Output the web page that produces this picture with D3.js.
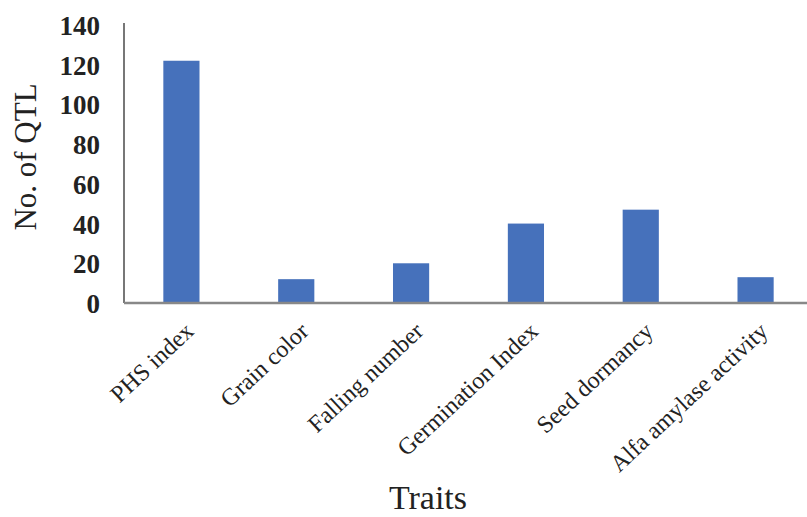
<!DOCTYPE html>
<html>
<head>
<meta charset="utf-8">
<script src="https://cdn.jsdelivr.net/npm/d3@7"></script>
<style>
  body { margin: 0; background: #fff; }
  text { font-family: "Liberation Serif", "DejaVu Serif", serif; fill: #222; }
</style>
</head>
<body>
<svg id="drawing_region"></svg>
<script>
// data
const traits = ["PHS index", "Grain color", "Falling number", "Germination Index", "Seed dormancy", "Alfa amylase activity"];
const qtlCounts = [122, 12, 20, 40, 47, 13];
const yTicks = [0, 20, 40, 60, 80, 100, 120, 140];

const width = 807, height = 517;
const margin = {top: 25, right: -6, bottom: 214, left: 124};

const svg = d3.select('#drawing_region')
    .attr('width', width)
    .attr('height', height);

const inner_width = width - margin.left - margin.right;
const inner_height = height - margin.top - margin.bottom;

const chart = svg.append('g')
    .attr('transform', `translate(${margin.left}, ${margin.top})`);

const xscale = d3.scaleBand()
    .domain(traits)
    .range([0, inner_width])
    .paddingInner(0.685)
    .paddingOuter(0.3425);

const yscale = d3.scaleLinear()
    .domain([0, 140])
    .range([inner_height, 0]);

// bars
chart.selectAll('rect')
    .data(traits)
    .enter()
    .append('rect')
    .attr('x', d => xscale(d))
    .attr('y', (d, i) => yscale(qtlCounts[i]))
    .attr('width', xscale.bandwidth())
    .attr('height', (d, i) => inner_height - yscale(qtlCounts[i]))
    .attr('fill', '#4671bb');

// y axis: line + labels, no tick marks
const yaxis = d3.axisLeft(yscale).tickValues(yTicks).tickSize(0).tickPadding(24);
const yg = chart.append('g').call(yaxis);
yg.select('.domain').remove();
yg.selectAll('text')
    .attr('font-family', '"Liberation Serif", serif')
    .attr('font-size', 27)
    .attr('font-weight', 'bold')
    .attr('fill', '#222')
    .attr('dy', '0.35em');

chart.append('line')
    .attr('x1', 0).attr('x2', 0)
    .attr('y1', -2).attr('y2', inner_height)
    .attr('stroke', '#777').attr('stroke-width', 2);

// x axis
const xaxis = d3.axisBottom(xscale).tickSize(0).tickPadding(0);
const xg = chart.append('g')
    .attr('transform', `translate(0, ${inner_height})`)
    .call(xaxis);
xg.select('.domain').remove();
xg.selectAll('text')
    .attr('font-family', '"Liberation Serif", serif')
    .attr('font-size', 24)
    .attr('fill', '#222')
    .attr('text-anchor', 'end')
    .attr('transform', 'translate(8, 24) rotate(-43)')
    .attr('dy', '0.35em')
    .attr('y', 0);

chart.append('line')
    .attr('x1', 0).attr('x2', inner_width)
    .attr('y1', inner_height).attr('y2', inner_height)
    .attr('stroke', '#888').attr('stroke-width', 2.5);

// axis titles
svg.append('text')
    .attr('x', 428)
    .attr('y', 509)
    .attr('text-anchor', 'middle')
    .attr('font-size', 34)
    .text('Traits');

svg.append('text')
    .attr('transform', 'rotate(-90)')
    .attr('x', -157)
    .attr('y', 36)
    .attr('text-anchor', 'middle')
    .attr('font-size', 31)
    .text('No. of QTL');
</script>
</body>
</html>
